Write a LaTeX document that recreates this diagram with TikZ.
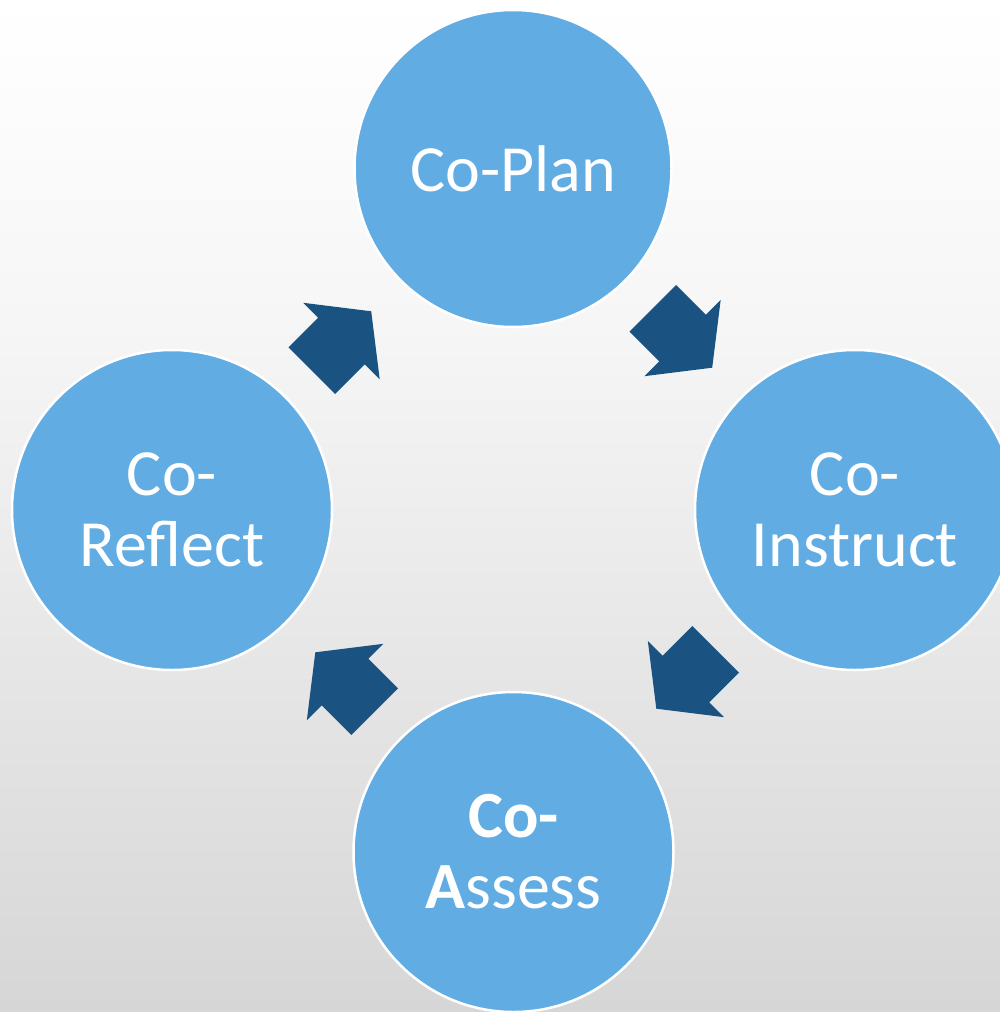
\documentclass[tikz,border=0pt]{standalone}
\usepackage{fontspec}
\setmainfont{Carlito}
\definecolor{cblue}{HTML}{60ACE3}
\definecolor{arrowblue}{HTML}{1A5381}
\definecolor{bgtop}{HTML}{FFFFFF}
\definecolor{bgmid}{HTML}{F6F6F6}
\definecolor{bgbot}{HTML}{D6D6D6}
\pgfdeclareverticalshading{bgshade}{100bp}{color(0bp)=(bgbot); color(25bp)=(bgbot); color(59bp)=(bgmid); color(75bp)=(bgtop); color(100bp)=(bgtop)}
\begin{document}
\begin{tikzpicture}[x=1pt,y=1pt,
  stage/.style={circle, inner sep=0pt, minimum size=320pt, fill=cblue, draw=white, line width=2.5pt,
    text=white, align=center, font=\fontsize{66}{71}\selectfont},
  blockarrow/.pic={\fill[arrowblue] (-42,33) -- (0,33) -- (0,54) -- (42,0) -- (0,-54) -- (0,-33) -- (-42,-33) -- cycle;}
]
\shade[shading=bgshade] (0,0) rectangle (1000,-1012);
\useasboundingbox (0,0) rectangle (1000,-1012);
\node[stage, minimum size=317pt] (plan) at (513,-168.5) {Co-Plan};
\node[stage] (instruct) at (855,-510) {Co-\\Instruct};
\node[stage] (assess) at (513.5,-852) {\textbf{Co-}\\\textbf{A}ssess};
\node[stage] (reflect) at (172,-510) {Co-\\Reflect};
\pic[rotate=-45] (a1) at (682.5,-338) {blockarrow};
\pic[rotate=45] (a2) at (341.5,-341) {blockarrow};
\pic[rotate=-135] (a3) at (686,-679) {blockarrow};
\pic[rotate=135] (a4) at (345,-682) {blockarrow};
\end{tikzpicture}
\end{document}
